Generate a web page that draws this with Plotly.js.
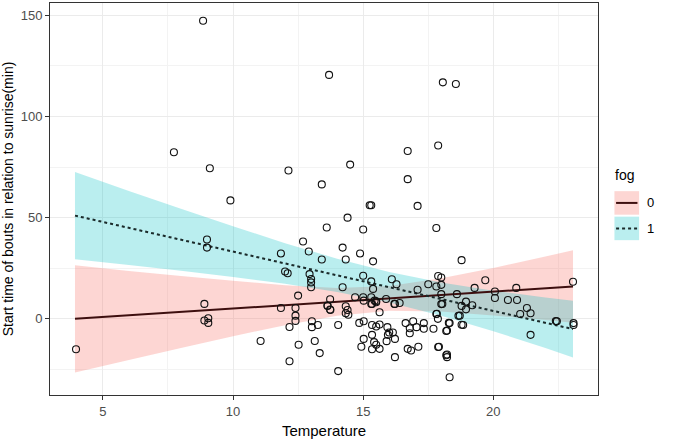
<!DOCTYPE html>
<html>
<head>
<meta charset="utf-8">
<script src="https://cdn.plot.ly/plotly-3.0.1.min.js"></script>
<style>body{margin:0;background:#fff}#chart{width:680px;height:439px}</style>
</head>
<body>
<div id="chart"></div>
<script>
// observed points (temperature, start time)
const tempX = [3.97, 8.9, 8.9, 9.05, 9.05, 11.06, 11.84, 12.17, 12.17, 12.4, 12.4, 12.4, 12.52, 13.03, 13.03, 13.26,
  13.14, 13.33, 13.63, 13.74, 14.04, 14.04, 14.33, 14.4, 14.33, 14.43, 14.85, 15.02, 15.02, 14.93, 15.34, 15.34,
  15.42, 15.34, 15.5, 15.63, 15.5, 15.63, 15.63, 15.34, 15.02, 15.5, 15.9, 15.93, 16.0, 16.14, 15.95, 16.22, 16.22,
  16.22, 16.63, 16.79, 16.79, 16.71, 16.84, 17.12, 16.92, 17.05, 17.33, 17.33, 17.7, 17.83, 17.87, 17.91, 18.22,
  18.32, 18.22, 18.22, 18.32, 18.71, 18.84, 18.04, 21.43, 21.43, 22.44, 23.08, 23.08,
  16.71, 17.88, 16.71, 17.09, 17.81, 18.78, 17.88, 18.0, 19.69, 16.1, 16.28, 17.09, 17.5, 17.81, 18.0, 18.0, 18.0,
  18.6, 19.28, 20.06, 20.06, 20.88, 20.56, 20.91, 21.29, 21.03, 23.06, 22.4, 18.95, 18.78, 18.95, 19.19, 18.66,
  18.78, 17.81, 18.29, 18.19, 17.88, 18.19, 16.4,
  12.13, 14.5, 13.41, 15.25, 15.31, 14.4, 13.6, 15.0, 12.69, 14.21, 12.91, 11.84, 14.33, 14.88, 15.38, 13.41,
  12.0, 12.1, 12.94, 13.0, 13.0, 13.0, 14.21, 15.0, 15.31, 15.38, 12.5, 13.73, 13.63, 13.73, 14.69, 15.0, 15.31,
  15.44, 15.31, 15.5, 15.88, 16.2,
  8.85, 13.69, 7.73, 9.11, 9.9, 9.0, 9.0, 18.06, 18.56];
const startY = [-15, 7.4, -0.8, 0.3, -2, -10.9, 5.4, -4, -20.9, 5.4, 1.6, -1, -12.8, -1.2, -4.1, -3,
  -10.9, -16.9, 6.4, 4.4, -3, -25.8, 6.2, 4.4, 2.8, 2, -2, -1.2, -9.9, -13.8, -3, -7.9,
  -11.5, -15, -12.8, -14.8, -3.8, -2.8, 3.3, 7.4, 9, 8.7, -11, -4.1, -6.7, -6.7, -7.9, -9.9, -18.9,
  7.4, -2.1, -4.6, -7.1, -14.8, -15.6, -13.8, -1.2, -4.1, -2.1, -4.9, -4.9, 2.5, 0, -13.8, -5.8,
  -2.1, -17.6, -18.9, -28.8, 1.6, -3, 7.4, -7.9, 2.8, -1.2, -2.1, -3,
  82.9, 85.6, 69, 55.8, 44.9, 29, 21.2, 20.4, 19.1, 19.6, 17.1, 14.4, 17.1, 16, 16.8, 12.2, 7.3,
  12.2, 15.3, 13.5, 10.3, 15.3, 9.3, 9.3, 5.4, 2.4, 18.3, -1.1, 8.5, 6.4, 4.7, 6.7, 1.5,
  -2.9, 2.4, -2, -6, -13.9, -18, 7.8,
  73.3, 76.2, 66.4, 56.1, 56.1, 50, 45.1, 44.1, 38.2, 35.2, 33.3, 32.3, 29.3, 32.3, 28.4, 29.3,
  23.4, 22.5, 22.1, 19.7, 18, 15.6, 15.6, 21.3, 18.5, 14.8, 11.5, 9.7, 6.6, 4.6, 10.7, 10.7, 10.7,
  9, 7.4, 8.2, 9.8, 7.4,
  147.2, 120.5, 82.3, 74.4, 58.5, 39.2, 35.2, 116.8, 116];

// fitted lines and confidence bands
const fitX = [3.93, 6, 8, 10, 12, 14, 16, 18, 20, 22, 23.06];
const fit0 = [0, 1.73, 3.4, 5.07, 6.75, 8.42, 10.1, 11.77, 13.43, 15.1, 16.0];
const lo0 = [-26.5, -20.3, -14.4, -8.6, -3.1, 1.5, 4.0, 3.6, 1.7, -0.6, -1.9];
const hi0 = [26.5, 23.7, 21.2, 18.8, 16.6, 15.3, 16.2, 20.0, 25.1, 30.8, 33.9];
const fit1 = [51, 44.9, 39.1, 33.2, 27.4, 21.5, 15.6, 9.8, 3.9, -1.9, -5.05];
const lo1 = [29.5, 26.6, 23.8, 20.7, 17.4, 13.3, 8.1, 1.6, -6.1, -14.4, -19.1];
const hi1 = [72.5, 63.2, 54.4, 45.7, 37.4, 29.7, 23.1, 18.0, 13.9, 10.6, 9.0];

const rosa = 'rgba(248,118,109,0.3)';
const turquesa = 'rgba(0,191,196,0.27)';

const banda = (lo, hi, color) => ({
  x: fitX.concat(fitX.slice().reverse()),
  y: lo.concat(hi.slice().reverse()),
  fill: 'toself', fillcolor: color, mode: 'none', type: 'scatter',
  hoverinfo: 'skip', showlegend: false
});

const trazas = [
  banda(lo0, hi0, rosa),
  banda(lo1, hi1, turquesa),
  { x: fitX, y: fit0, mode: 'lines', line: { color: '#3d0f0f', width: 2 }, showlegend: false },
  { x: fitX, y: fit1, mode: 'lines', line: { color: '#1a2a2a', width: 2, dash: 'dot' }, showlegend: false },
  { x: tempX, y: startY, mode: 'markers', showlegend: false,
    marker: { symbol: 'circle-open', size: 7, color: '#111', line: { width: 1.1 } } }
];

const gris = '#ebebeb';
const eje = (extra) => Object.assign({
  showgrid: true, gridcolor: gris, gridwidth: 1,
  zeroline: false, showline: true, mirror: true, linecolor: '#333', linewidth: 1,
  ticks: 'outside', ticklen: 4, tickcolor: '#333',
  tickfont: { size: 13, color: '#4d4d4d' }
}, extra);

const layout = {
  width: 680, height: 439,
  margin: { l: 50, r: 82, t: 3, b: 44 },
  paper_bgcolor: '#fff', plot_bgcolor: '#fff',
  font: { family: 'Liberation Sans, Arial', color: '#000' },
  xaxis: eje({ range: [2.97, 24.02], tickvals: [5, 10, 15, 20],
    minor: { showgrid: true, gridcolor: '#f3f3f3', dtick: 2.5, tick0: 2.5 },
    title: { text: 'Temperature', font: { size: 15 }, standoff: 8 } }),
  yaxis: eje({ range: [-37.6, 156], tickvals: [0, 50, 100, 150],
    minor: { showgrid: true, gridcolor: '#f3f3f3', dtick: 25, tick0: 25 },
    title: { text: 'Start time of bouts in relation to sunrise(min)', font: { size: 14 }, standoff: 6 } }),
  shapes: [
    { type: 'rect', xref: 'paper', yref: 'paper', x0: 1.03, x1: 1.075, y0: 0.46, y1: 0.52, fillcolor: rosa, line: { width: 0 } },
    { type: 'line', xref: 'paper', yref: 'paper', x0: 1.033, x1: 1.072, y0: 0.49, y1: 0.49, line: { color: '#3d0f0f', width: 2 } },
    { type: 'rect', xref: 'paper', yref: 'paper', x0: 1.03, x1: 1.075, y0: 0.395, y1: 0.455, fillcolor: turquesa, line: { width: 0 } },
    { type: 'line', xref: 'paper', yref: 'paper', x0: 1.033, x1: 1.072, y0: 0.425, y1: 0.425, line: { color: '#1a2a2a', width: 2, dash: 'dot' } }
  ],
  annotations: [
    { text: 'fog', xref: 'paper', yref: 'paper', x: 1.028, y: 0.56, xanchor: 'left', showarrow: false, font: { size: 14 } },
    { text: '0', xref: 'paper', yref: 'paper', x: 1.085, y: 0.49, xanchor: 'left', showarrow: false, font: { size: 13 } },
    { text: '1', xref: 'paper', yref: 'paper', x: 1.085, y: 0.425, xanchor: 'left', showarrow: false, font: { size: 13 } }
  ]
};

Plotly.newPlot('chart', trazas, layout, { staticPlot: true });
</script>
</body>
</html>
